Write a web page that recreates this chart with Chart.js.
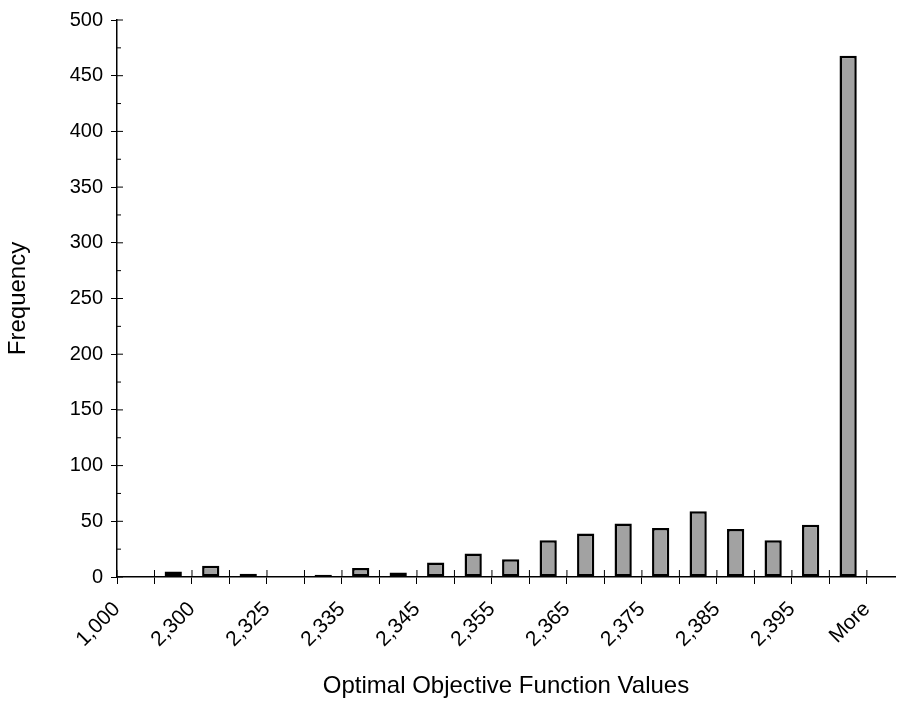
<!DOCTYPE html>
<html>
<head>
<meta charset="utf-8">
<script src="https://cdn.jsdelivr.net/npm/chart.js@4.4.0/dist/chart.umd.min.js"></script>
<style>
  body { margin: 0; background: #fff; }
  #wrap { width: 902px; height: 704px; }
</style>
</head>
<body>
<div id="wrap"><canvas id="histChart" width="902" height="704"></canvas></div>
<script>
// histogram bins (bars sit between the tick marks)
var binCounts = [0, 5, 10, 3, 1, 2, 8, 4, 13, 21, 16, 33, 39, 48, 44, 59, 43, 33, 47, 468];
// labels shown on every other tick mark
var tickLabels = ['1,000', '2,300', '2,325', '2,335', '2,345', '2,355', '2,365', '2,375', '2,385', '2,395', 'More'];
var yTicks = [0, 50, 100, 150, 200, 250, 300, 350, 400, 450, 500];
var minorStep = 25;

var FONT = "'Liberation Sans', Arial, sans-serif";

// tick marks that cross the axes, plus minor y ticks
var crossTicks = {
    id: 'crossTicks',
    afterDraw: function(chart) {
        var ctx = chart.ctx, x = chart.scales.x, y = chart.scales.y;
        ctx.save();
        ctx.strokeStyle = '#000';
        ctx.lineWidth = 1;
        ctx.beginPath();
        x.ticks.forEach(function(t) {
            var px = x.getPixelForValue(t.value);
            ctx.moveTo(px, y.bottom - 7);
            ctx.lineTo(px, y.bottom);
        });
        y.ticks.forEach(function(t) {
            var py = y.getPixelForValue(t.value);
            ctx.moveTo(x.left, py);
            ctx.lineTo(x.left + 6, py);
        });
        for (var v = minorStep; v < yTicks[yTicks.length - 1]; v += minorStep * 2) {
            var py = y.getPixelForValue(v);
            ctx.moveTo(x.left, py);
            ctx.lineTo(x.left + 4, py);
        }
        ctx.stroke();
        ctx.restore();
    }
};

var ctx = document.getElementById('histChart').getContext('2d');
new Chart(ctx, {
    type: 'bar',
    data: {
        datasets: [{
            label: 'Frequency',
            data: binCounts.map(function(v, i) { return { x: i + 0.5, y: v }; }),
            backgroundColor: '#a2a2a2',
            borderColor: '#000',
            borderWidth: 2.5,
            borderSkipped: false,
            barPercentage: 0.46,
            categoryPercentage: 1
        }]
    },
    options: {
        responsive: false,
        devicePixelRatio: 1,
        animation: false,
        layout: { padding: { top: 19, right: 7, left: 0, bottom: 0 } },
        plugins: {
            legend: { display: false },
            tooltip: { enabled: false }
        },
        scales: {
            x: {
                type: 'linear',
                min: 0,
                max: 20.75,
                offset: false,
                afterFit: function(scale) { scale.height = 127; },
                grid: { offset: false, drawOnChartArea: false, color: '#000', tickLength: 7 },
                border: { color: '#000', width: 1.5 },
                ticks: {
                    stepSize: 1,
                    includeBounds: false,
                    autoSkip: false,
                    minRotation: 45,
                    maxRotation: 45,
                    padding: 13,
                    color: '#000',
                    font: { family: FONT, size: 21 },
                    callback: function(v) { return v % 2 === 0 ? tickLabels[v / 2] : ''; }
                },
                title: {
                    display: true,
                    text: 'Optimal Objective Function Values',
                    color: '#000',
                    font: { family: FONT, size: 24 },
                    padding: { top: 0, bottom: 3 }
                }
            },
            y: {
                min: yTicks[0],
                max: yTicks[yTicks.length - 1],
                afterFit: function(scale) { scale.width = 117; },
                grid: { drawOnChartArea: false, color: '#000', tickLength: 6 },
                border: { color: '#000', width: 1.5 },
                ticks: {
                    stepSize: 50,
                    padding: 8,
                    color: '#000',
                    font: { family: FONT, size: 20 }
                },
                title: {
                    display: true,
                    text: 'Frequency',
                    color: '#000',
                    font: { family: FONT, size: 24 },
                    padding: { top: 4, bottom: 0 }
                }
            }
        }
    },
    plugins: [crossTicks]
});
</script>
</body>
</html>
